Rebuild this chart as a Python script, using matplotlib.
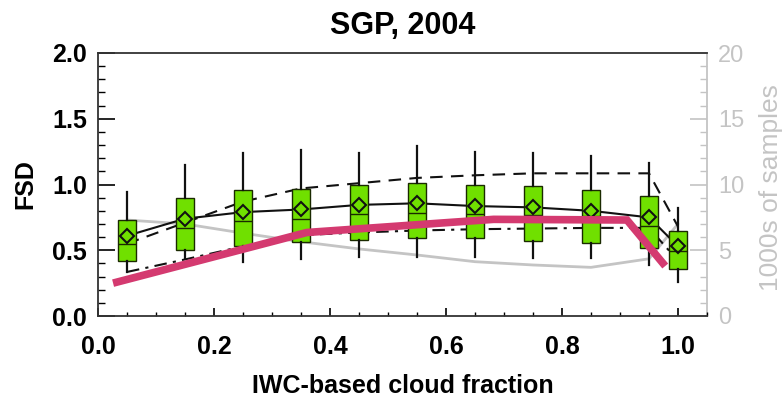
import matplotlib
matplotlib.use("Agg")
import matplotlib.pyplot as plt
from matplotlib.ticker import MultipleLocator

plt.rcParams['font.family'] = ['Liberation Sans', 'DejaVu Sans']

# ---------------- data ----------------
title = "SGP, 2004"
xlabel = "IWC-based cloud fraction"
ylabel = "FSD"
ylabel_right = "1000s of samples"

positions = [0.05, 0.15, 0.25, 0.35, 0.45, 0.55, 0.65, 0.75, 0.85, 0.95, 1.0]
q1 = [0.42, 0.50, 0.53, 0.56, 0.58, 0.59, 0.59, 0.57, 0.553, 0.52, 0.355]
q3 = [0.73, 0.90, 0.96, 0.965, 1.00, 1.01, 1.00, 0.99, 0.96, 0.91, 0.65]
medians = [0.55, 0.67, 0.72, 0.737, 0.776, 0.786, 0.776, 0.77, 0.76, 0.684, 0.494]
means = [0.61, 0.74, 0.79, 0.81, 0.845, 0.857, 0.836, 0.826, 0.80, 0.75, 0.53]
whisk_hi = [0.945, 1.15, 1.24, 1.26, 1.24, 1.29, 1.25, 1.24, 1.22, 1.16, 0.82]
whisk_lo = [0.335, 0.44, 0.41, 0.43, 0.45, 0.45, 0.45, 0.44, 0.44, 0.39, 0.26]

upper_dashed = [0.55, 0.71, 0.87, 0.97, 1.01, 1.05, 1.07, 1.085, 1.085, 1.085, 0.68]
lower_dashdot = [0.335, 0.43, 0.53, 0.615, 0.635, 0.65, 0.66, 0.665, 0.67, 0.67, 0.42]

samples_k = [7.3, 7.0, 6.3, 5.65, 5.1, 4.64, 4.13, 3.88, 3.7, 4.35, 7.0]

param_x = [0.026, 0.36, 0.682, 0.912, 0.978]
param_y = [0.25, 0.635, 0.735, 0.73, 0.38]

# ---------------- figure ----------------
fig = plt.figure(figsize=(7.84, 4.01), dpi=100)
ax = fig.add_axes([98/784, 1-316/401, (707-98)/784, (316-53)/401])
ax2 = ax.twinx()
ax.set_zorder(ax2.get_zorder() + 1)
ax.patch.set_visible(False)

gray = '#c4c4c4'
green = '#70e000'
magenta = '#d43a70'

# sample counts on right axis
ax2.plot(positions, samples_k, color=gray, lw=2.0, solid_capstyle='round')

# lines (behind boxes)
ax.plot(positions, means, color='#111111', lw=1.5, zorder=1)
ax.plot(positions, upper_dashed, color='#111111', lw=1.5, dashes=(6, 4), zorder=1)
ax.plot(positions, lower_dashdot, color='#111111', lw=1.5, dashes=(6, 3, 1.5, 3), zorder=1)

stats = []
for i in range(len(positions)):
    stats.append(dict(med=medians[i], q1=q1[i], q3=q3[i], whislo=whisk_lo[i],
                      whishi=whisk_hi[i], mean=means[i], fliers=[]))
ax.bxp(stats, positions=positions, widths=0.03, patch_artist=True,
       showmeans=True, showcaps=False, showfliers=False, manage_ticks=False,
       boxprops=dict(facecolor=green, edgecolor='#1a2a00', linewidth=1.0),
       medianprops=dict(color='#1a2a00', linewidth=1.0),
       whiskerprops=dict(color='#111111', linewidth=1.6),
       meanprops=dict(marker='D', markersize=7, markerfacecolor='none',
                      markeredgecolor='#111111', markeredgewidth=1.5),
       zorder=2)

ax.plot(param_x, param_y, color=magenta, lw=5.5, zorder=5, solid_capstyle='butt',
        solid_joinstyle='miter')

# axes setup
ax.set_xlim(0, 1.05)
ax.set_ylim(0, 2.0)
ax2.set_ylim(0, 20)

ax.xaxis.set_major_locator(MultipleLocator(0.2))
ax.xaxis.set_minor_locator(MultipleLocator(0.05))
ax.yaxis.set_major_locator(MultipleLocator(0.5))
ax.yaxis.set_minor_locator(MultipleLocator(0.1))
ax2.yaxis.set_major_locator(MultipleLocator(5))
ax2.yaxis.set_minor_locator(MultipleLocator(1))
ax.xaxis.set_major_formatter(matplotlib.ticker.FormatStrFormatter('%.1f'))
ax.yaxis.set_major_formatter(matplotlib.ticker.FormatStrFormatter('%.1f'))

ax.tick_params(axis='x', which='major', direction='in', length=6, width=1.2,
               labelsize=18, pad=14, top=False)
ax.tick_params(axis='x', which='minor', direction='in', length=3, width=1.0, top=False)
ax.tick_params(axis='y', which='major', direction='in', length=12, width=1.2,
               labelsize=18, pad=8, right=False)
ax.tick_params(axis='y', which='minor', direction='in', length=5, width=1.0, right=False)
for lab in ax.get_xticklabels() + ax.get_yticklabels():
    lab.set_fontweight('bold')

ax2.tick_params(axis='y', which='major', direction='in', length=12, width=1.2,
                color=gray, labelcolor=gray, labelsize=17, pad=8)
ax2.tick_params(axis='y', which='minor', direction='in', length=5, width=1.0, color=gray)

for s in ['left', 'bottom', 'top']:
    ax.spines[s].set_color('#333333')
    ax.spines[s].set_linewidth(1.3)
ax.spines['right'].set_visible(False)
for s in ['left', 'bottom', 'top']:
    ax2.spines[s].set_visible(False)
ax2.spines['right'].set_color(gray)
ax2.spines['right'].set_linewidth(1.3)

ax.set_title(title, fontsize=22, fontweight='bold', pad=14)
ax.set_xlabel(xlabel, fontsize=18, fontweight='bold')
ax.xaxis.label.set_va('center')
ax.xaxis.set_label_coords(0.5, -0.266)
ax.set_ylabel(ylabel, fontsize=18, fontweight='bold')
ax.yaxis.label.set_va('center')
ax.yaxis.set_label_coords(-0.12, 0.5)
ax2.set_ylabel(ylabel_right, fontsize=19, color=gray)
ax2.yaxis.label.set_va('center')
ax2.yaxis.set_label_coords(1.105, 0.487)

fig.savefig('out.png', dpi=100)
